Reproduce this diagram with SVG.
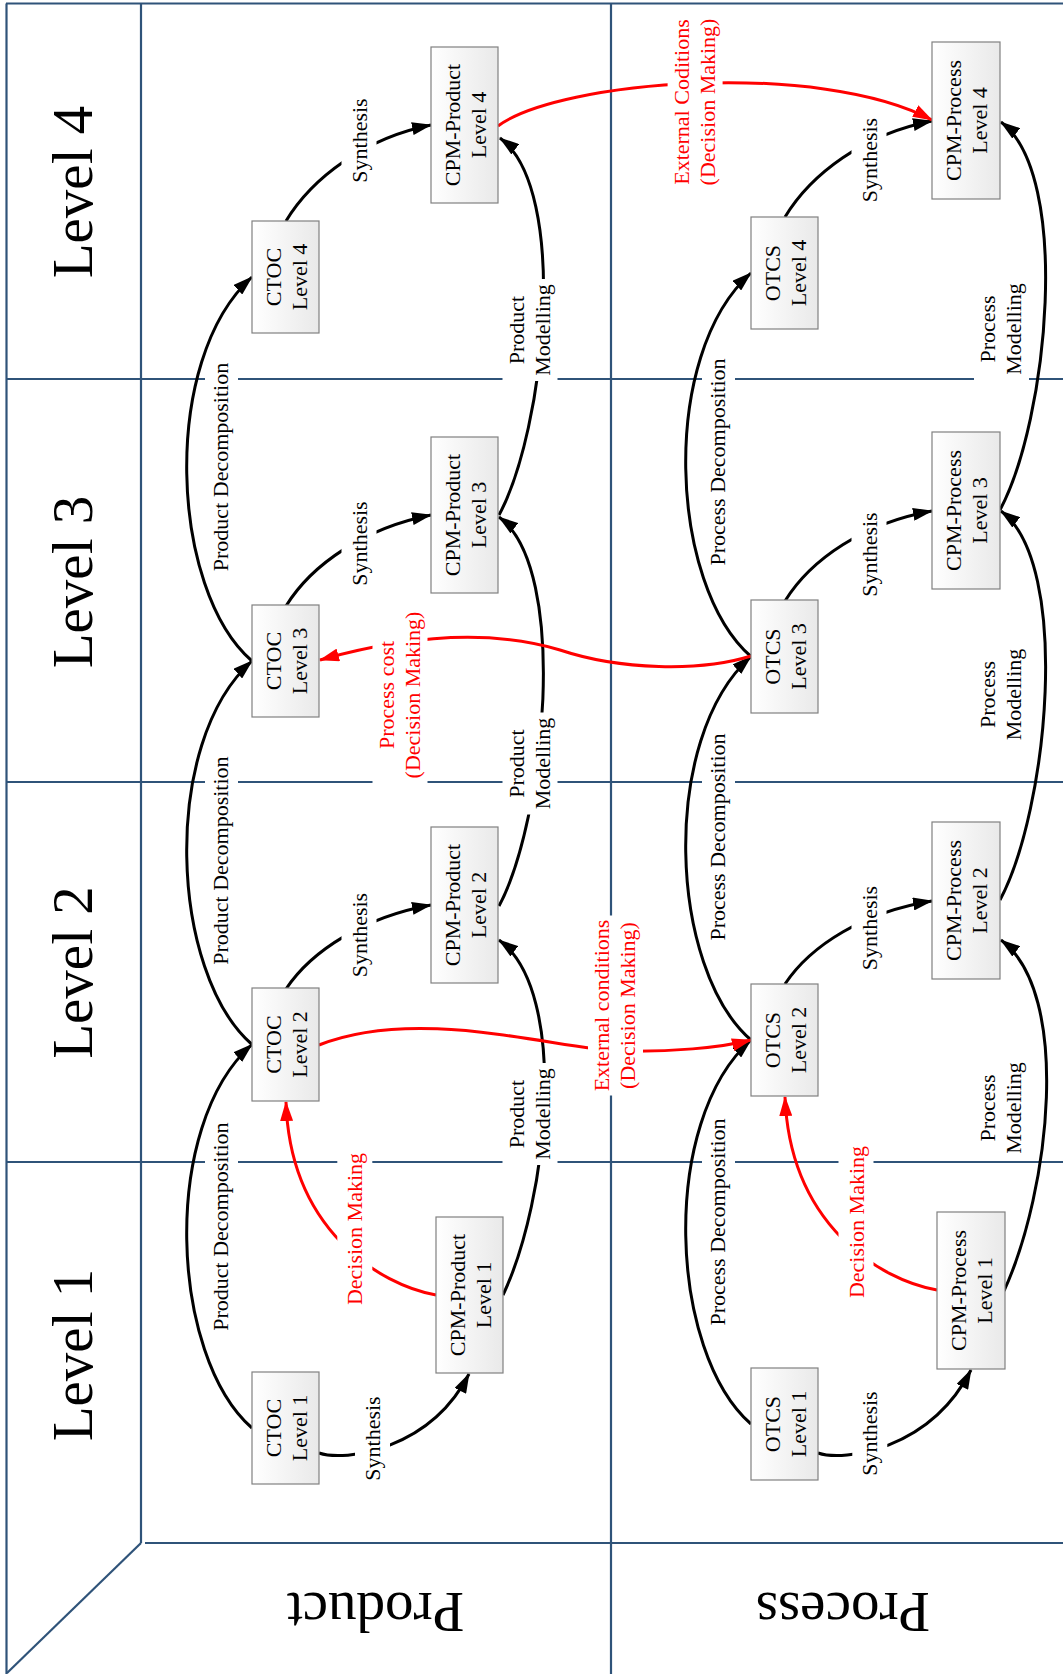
<svg xmlns="http://www.w3.org/2000/svg" width="1063" height="1674" viewBox="0 0 1063 1674">
<defs>
<linearGradient id="nodeFill" x1="0" y1="0" x2="1" y2="0">
<stop offset="0" stop-color="#ffffff"/>
<stop offset="1" stop-color="#e9e9e9"/>
</linearGradient>
<marker id="arrowBlack" markerUnits="userSpaceOnUse" markerWidth="20" markerHeight="13" refX="19" refY="6.5" orient="auto" viewBox="0 0 20 13">
<path d="M0,0 L20,6.5 L0,13 z" fill="#000"/>
</marker>
<marker id="arrowRed" markerUnits="userSpaceOnUse" markerWidth="20" markerHeight="13" refX="19" refY="6.5" orient="auto" viewBox="0 0 20 13">
<path d="M0,0 L20,6.5 L0,13 z" fill="#ff0000"/>
</marker>
</defs>
<style>
.grid{stroke:#2f5379;stroke-width:2.2;fill:none}
.edge{stroke:#000;stroke-width:3;fill:none;marker-end:url(#arrowBlack)}
.redge{stroke:#ff0000;stroke-width:3;fill:none;marker-end:url(#arrowRed)}
.node rect{fill:url(#nodeFill);stroke:#808080;stroke-width:1.2}
.node text{font-family:"Liberation Serif","Times New Roman",serif;font-size:22px;fill:#000;text-anchor:middle}
.lbl{font-family:"Liberation Serif","Times New Roman",serif;font-size:22px;fill:#000;text-anchor:middle}
.rlbl{font-family:"Liberation Serif","Times New Roman",serif;font-size:22px;fill:#ff0000;text-anchor:middle}
.big{font-family:"Liberation Serif","Times New Roman",serif;font-size:57px;fill:#000;text-anchor:middle}
.bg{fill:#ffffff}
</style>
<rect x="0" y="0" width="1063" height="1674" fill="#ffffff"/>

<g id="grid">
<path class="grid" d="M6,3.5 H1063"/>
<path class="grid" d="M6.5,3.5 V1674"/>
<path class="grid" d="M141,3.5 V1543"/>
<path class="grid" d="M611,3.5 V1674"/>
<path class="grid" d="M6,379 H1063"/>
<path class="grid" d="M6,782 H1063"/>
<path class="grid" d="M6,1162 H1063"/>
<path class="grid" d="M145,1543 H1063"/>
<path class="grid" d="M141,1543 L7,1673"/>
</g>

<g id="headers">
<text class="big" transform="translate(92,192) rotate(-90)">Level 4</text>
<text class="big" transform="translate(92,582) rotate(-90)">Level 3</text>
<text class="big" transform="translate(92,972.5) rotate(-90)">Level 2</text>
<text class="big" transform="translate(92,1355) rotate(-90)">Level 1</text>
<text class="big" transform="translate(375.5,1593) rotate(180)">Product</text>
<text class="big" transform="translate(843,1593) rotate(180)">Process</text>
</g>

<g id="decomposition-label-backgrounds">
<rect class="bg" transform="translate(228,467) rotate(-90)" x="-106.5" y="-23" width="213" height="33"/>
<rect class="bg" transform="translate(228,860.6) rotate(-90)" x="-106.5" y="-23" width="213" height="33"/>
<rect class="bg" transform="translate(228,1226.6) rotate(-90)" x="-106.5" y="-23" width="213" height="33"/>
<rect class="bg" transform="translate(725,462) rotate(-90)" x="-106.5" y="-23" width="213" height="33"/>
<rect class="bg" transform="translate(725,837) rotate(-90)" x="-106.5" y="-23" width="213" height="33"/>
<rect class="bg" transform="translate(725,1222) rotate(-90)" x="-106.5" y="-23" width="213" height="33"/>
</g>

<g id="connectors">
<path class="edge" d="M286,221 C312,178 365,138 431,125"/>
<path class="edge" d="M286,606 C312,564 365,528 431,515"/>
<path class="edge" d="M286,989 C312,950 365,917 431,905"/>
<path class="edge" d="M319,1453 C345,1462 430,1450 469,1374"/>
<path class="edge" d="M785,217 C811,174 864,134 932,121"/>
<path class="edge" d="M785,601 C811,559 864,523 932,511"/>
<path class="edge" d="M785,984 C811,945 864,912 932,901"/>
<path class="edge" d="M818,1453 C844,1462 930,1450 971,1370"/>
<path class="edge" d="M252,661 C170,590 160,360 252,277"/>
<path class="edge" d="M252,1044.5 C170,973 160,743 252,661"/>
<path class="edge" d="M252,1428 C170,1356 160,1126 252,1044.5"/>
<path class="edge" d="M751,656.5 C669,585 659,355 751,273"/>
<path class="edge" d="M751,1040 C669,969 659,739 751,656.5"/>
<path class="edge" d="M751,1424 C669,1352 659,1122 751,1040"/>
<path class="edge" d="M499,515 C545,430 570,190 500,138"/>
<path class="edge" d="M499,906 C545,820 570,569 499,517"/>
<path class="edge" d="M503,1295 C548,1200 570,992 499,940"/>
<path class="edge" d="M1000,510 C1048,420 1072,175 1001,122"/>
<path class="edge" d="M1000,900 C1048,810 1072,564 1001,511"/>
<path class="edge" d="M1004,1291 C1050,1190 1072,993 1001,940"/>
<path class="redge" d="M498,126 C560,80 820,60 932,120"/>
<path class="redge" d="M319,1045 C420,1005 560,1050 620,1051 C670,1052 720,1048 751,1040"/>
<path class="redge" d="M751,656 C700,672 620,670 560,650 C500,632 420,632 320,660"/>
<path class="redge" d="M436,1295 C380,1285 290,1230 286,1102"/>
<path class="redge" d="M937,1290 C880,1280 790,1225 785,1097"/>
</g>

<g id="edge-labels">
<g transform="translate(366.5,140.5) rotate(-90)"><rect class="bg" x="-45" y="-25" width="90" height="35"/><text class="lbl">Synthesis</text></g>
<g transform="translate(366.5,543.5) rotate(-90)"><rect class="bg" x="-45" y="-25" width="90" height="35"/><text class="lbl">Synthesis</text></g>
<g transform="translate(366.5,935) rotate(-90)"><rect class="bg" x="-45" y="-25" width="90" height="35"/><text class="lbl">Synthesis</text></g>
<g transform="translate(380,1438.5) rotate(-90)"><rect class="bg" x="-45" y="-25" width="90" height="35"/><text class="lbl">Synthesis</text></g>
<g transform="translate(876.5,160) rotate(-90)"><rect class="bg" x="-45" y="-25" width="90" height="35"/><text class="lbl">Synthesis</text></g>
<g transform="translate(876.5,554.5) rotate(-90)"><rect class="bg" x="-45" y="-25" width="90" height="35"/><text class="lbl">Synthesis</text></g>
<g transform="translate(876.5,928) rotate(-90)"><rect class="bg" x="-45" y="-25" width="90" height="35"/><text class="lbl">Synthesis</text></g>
<g transform="translate(877.3,1433.5) rotate(-90)"><rect class="bg" x="-45" y="-25" width="90" height="35"/><text class="lbl">Synthesis</text></g>

<text class="lbl" transform="translate(228,467) rotate(-90)">Product Decomposition</text>
<text class="lbl" transform="translate(228,860.6) rotate(-90)">Product Decomposition</text>
<text class="lbl" transform="translate(228,1226.6) rotate(-90)">Product Decomposition</text>
<text class="lbl" transform="translate(725,462) rotate(-90)">Process Decomposition</text>
<text class="lbl" transform="translate(725,837) rotate(-90)">Process Decomposition</text>
<text class="lbl" transform="translate(725,1222) rotate(-90)">Process Decomposition</text>

<g transform="translate(523.5,330) rotate(-90)"><rect class="bg" x="-51" y="-21" width="102" height="55"/><text class="lbl"><tspan x="0" y="0">Product</tspan><tspan x="0" y="26">Modelling</tspan></text></g>
<g transform="translate(523.5,763.5) rotate(-90)"><rect class="bg" x="-51" y="-21" width="102" height="55"/><text class="lbl"><tspan x="0" y="0">Product</tspan><tspan x="0" y="26">Modelling</tspan></text></g>
<g transform="translate(523.5,1114) rotate(-90)"><rect class="bg" x="-51" y="-21" width="102" height="55"/><text class="lbl"><tspan x="0" y="0">Product</tspan><tspan x="0" y="26">Modelling</tspan></text></g>
<g transform="translate(995,329) rotate(-90)"><rect class="bg" x="-51" y="-21" width="102" height="55"/><text class="lbl"><tspan x="0" y="0">Process</tspan><tspan x="0" y="26">Modelling</tspan></text></g>
<g transform="translate(995,694.5) rotate(-90)"><rect class="bg" x="-51" y="-21" width="102" height="55"/><text class="lbl"><tspan x="0" y="0">Process</tspan><tspan x="0" y="26">Modelling</tspan></text></g>
<g transform="translate(995,1108) rotate(-90)"><rect class="bg" x="-51" y="-21" width="102" height="55"/><text class="lbl"><tspan x="0" y="0">Process</tspan><tspan x="0" y="26">Modelling</tspan></text></g>

<g transform="translate(688.6,102) rotate(-90)"><rect class="bg" x="-88" y="-21" width="176" height="55"/><text class="rlbl"><tspan x="0" y="0">External Coditions</tspan><tspan x="0" y="26">(Decision Making)</tspan></text></g>
<g transform="translate(609,1005.5) rotate(-90)"><rect class="bg" x="-90" y="-21" width="180" height="55"/><text class="rlbl"><tspan x="0" y="0">External conditions</tspan><tspan x="0" y="26">(Decision Making)</tspan></text></g>
<g transform="translate(393.5,695) rotate(-90)"><rect class="bg" x="-88" y="-21" width="176" height="55"/><text class="rlbl"><tspan x="0" y="0">Process cost</tspan><tspan x="0" y="26">(Decision Making)</tspan></text></g>
<g transform="translate(362.3,1229) rotate(-90)"><rect class="bg" x="-79" y="-25" width="158" height="35"/><text class="rlbl">Decision Making</text></g>
<g transform="translate(863.5,1222) rotate(-90)"><rect class="bg" x="-79" y="-25" width="158" height="35"/><text class="rlbl">Decision Making</text></g>
</g>

<g id="ctoc4" class="node"><rect x="252" y="221" width="67" height="112"/><text transform="translate(285.5,277) rotate(-90)"><tspan x="0" y="-5">CTOC</tspan><tspan x="0" y="21">Level 4</tspan></text></g>
<g id="cpmproduct4" class="node"><rect x="431" y="47" width="67" height="156"/><text transform="translate(464.5,125) rotate(-90)"><tspan x="0" y="-5">CPM-Product</tspan><tspan x="0" y="21">Level 4</tspan></text></g>
<g id="otcs4" class="node"><rect x="751" y="217" width="67" height="112"/><text transform="translate(784.5,273) rotate(-90)"><tspan x="0" y="-5">OTCS</tspan><tspan x="0" y="21">Level 4</tspan></text></g>
<g id="cpmprocess4" class="node"><rect x="932" y="42" width="68" height="157"/><text transform="translate(966,120.5) rotate(-90)"><tspan x="0" y="-5">CPM-Process</tspan><tspan x="0" y="21">Level 4</tspan></text></g>

<g id="ctoc3" class="node"><rect x="252" y="605" width="67" height="112"/><text transform="translate(285.5,661) rotate(-90)"><tspan x="0" y="-5">CTOC</tspan><tspan x="0" y="21">Level 3</tspan></text></g>
<g id="cpmproduct3" class="node"><rect x="431" y="437" width="67" height="156"/><text transform="translate(464.5,515) rotate(-90)"><tspan x="0" y="-5">CPM-Product</tspan><tspan x="0" y="21">Level 3</tspan></text></g>
<g id="otcs3" class="node"><rect x="751" y="600" width="67" height="113"/><text transform="translate(784.5,656.5) rotate(-90)"><tspan x="0" y="-5">OTCS</tspan><tspan x="0" y="21">Level 3</tspan></text></g>
<g id="cpmprocess3" class="node"><rect x="932" y="432" width="68" height="157"/><text transform="translate(966,510.5) rotate(-90)"><tspan x="0" y="-5">CPM-Process</tspan><tspan x="0" y="21">Level 3</tspan></text></g>

<g id="ctoc2" class="node"><rect x="252" y="988" width="67" height="113"/><text transform="translate(285.5,1044.5) rotate(-90)"><tspan x="0" y="-5">CTOC</tspan><tspan x="0" y="21">Level 2</tspan></text></g>
<g id="cpmproduct2" class="node"><rect x="431" y="827" width="67" height="156"/><text transform="translate(464.5,905) rotate(-90)"><tspan x="0" y="-5">CPM-Product</tspan><tspan x="0" y="21">Level 2</tspan></text></g>
<g id="otcs2" class="node"><rect x="751" y="984" width="67" height="112"/><text transform="translate(784.5,1040) rotate(-90)"><tspan x="0" y="-5">OTCS</tspan><tspan x="0" y="21">Level 2</tspan></text></g>
<g id="cpmprocess2" class="node"><rect x="932" y="822" width="68" height="157"/><text transform="translate(966,900.5) rotate(-90)"><tspan x="0" y="-5">CPM-Process</tspan><tspan x="0" y="21">Level 2</tspan></text></g>

<g id="ctoc1" class="node"><rect x="252" y="1372" width="67" height="112"/><text transform="translate(285.5,1428) rotate(-90)"><tspan x="0" y="-5">CTOC</tspan><tspan x="0" y="21">Level 1</tspan></text></g>
<g id="cpmproduct1" class="node"><rect x="436" y="1217" width="67" height="156"/><text transform="translate(469.5,1295) rotate(-90)"><tspan x="0" y="-5">CPM-Product</tspan><tspan x="0" y="21">Level 1</tspan></text></g>
<g id="otcs1" class="node"><rect x="751" y="1368" width="67" height="112"/><text transform="translate(784.5,1424) rotate(-90)"><tspan x="0" y="-5">OTCS</tspan><tspan x="0" y="21">Level 1</tspan></text></g>
<g id="cpmprocess1" class="node"><rect x="937" y="1212" width="68" height="157"/><text transform="translate(971,1290.5) rotate(-90)"><tspan x="0" y="-5">CPM-Process</tspan><tspan x="0" y="21">Level 1</tspan></text></g>
</svg>
